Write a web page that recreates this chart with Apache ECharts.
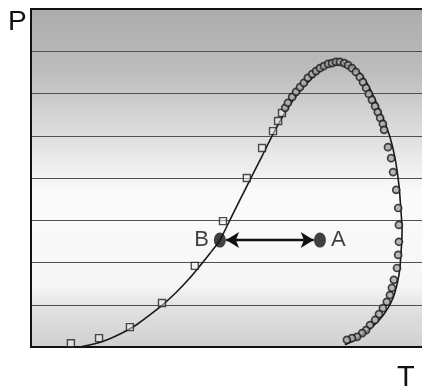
<!DOCTYPE html>
<html>
<head>
<meta charset="utf-8">
<script src="https://cdn.jsdelivr.net/npm/echarts@6/dist/echarts.min.js"></script>
<style>
  html, body { margin: 0; padding: 0; background: #fff; }
  #chart { width: 422px; height: 389px; }
</style>
</head>
<body>
<div id="chart"></div>
<script>
// fitted curve (T, P)
const curveT = [12.5, 16.1, 19.7, 23.3, 26.9, 30.4, 33.8, 37.1, 40.2, 43.2, 45.8, 48.3, 51.9, 55.5, 59.1, 62.7, 65.7, 68.8, 71.9, 74.9, 78.3, 81.3, 84.1, 86.2, 88.0, 90.0, 91.8, 93.1, 94.1, 94.6, 94.9, 94.6, 94.1, 92.6, 90.3, 87.2, 83.6, 80.3]
const curveP = [0, 0.07, 0.18, 0.33, 0.52, 0.76, 1.01, 1.29, 1.59, 1.92, 2.22, 2.53, 3.20, 3.86, 4.52, 5.18, 5.66, 6.06, 6.37, 6.60, 6.72, 6.67, 6.49, 6.20, 5.85, 5.42, 4.97, 4.47, 3.83, 3.24, 2.77, 2.18, 1.70, 1.16, 0.78, 0.47, 0.21, 0.05]

// square markers
const squareT = [10.2, 17.4, 25.3, 33.5, 41.9, 49.1, 55.2, 59.1, 61.9, 63.2, 64.2]
const squareP = [0.09, 0.21, 0.47, 1.04, 1.92, 2.98, 4.0, 4.71, 5.11, 5.35, 5.54]

// circle markers
const circleT = [65.0, 65.7, 66.8, 67.8, 68.8, 69.8, 70.8, 71.9, 72.9, 73.9, 74.9, 76.0, 77.0, 78.0, 79.0, 80.1, 81.1, 82.1, 83.1, 84.1, 84.9, 85.7, 86.4, 87.2, 88.0, 88.7, 89.3, 90.0, 90.3, 91.3, 92.1, 92.6, 93.4, 93.9, 94.1, 94.1, 93.9, 93.6, 92.8, 92.3, 91.8, 91.0, 90.0, 89.0, 88.0, 86.7, 85.7, 84.7, 83.4, 82.1, 80.8]
const circleP = [5.66, 5.78, 5.92, 6.04, 6.15, 6.25, 6.37, 6.46, 6.53, 6.60, 6.65, 6.70, 6.72, 6.75, 6.75, 6.72, 6.67, 6.60, 6.51, 6.39, 6.27, 6.13, 5.99, 5.85, 5.70, 5.56, 5.42, 5.28, 5.14, 4.73, 4.47, 4.14, 3.72, 3.29, 2.89, 2.49, 2.18, 1.87, 1.59, 1.40, 1.23, 1.07, 0.92, 0.78, 0.64, 0.52, 0.40, 0.33, 0.24, 0.21, 0.17]

// points A and B
const pointNames = ['B', 'A']
const pointT = [48.3, 73.9]
const pointP = [2.53, 2.53]

const zip = (xs, ys) => xs.map((x, i) => [x, ys[i]])

const chart = echarts.init(document.getElementById('chart'))
const labelFont = '"Liberation Sans", Arial, sans-serif'

const hiddenAxis = {
  axisLabel: { show: false },
  axisTick: { show: false },
  splitLine: { show: false },
  axisLine: { lineStyle: { color: '#111', width: 2 } }
}

chart.setOption({
  animation: false,
  grid: {
    left: 31,
    top: 9,
    right: 0,
    bottom: 42,
    show: true,
    borderWidth: 0,
    backgroundColor: new echarts.graphic.LinearGradient(0, 0, 0, 1, [
      { offset: 0, color: '#acacac' },
      { offset: 0.18, color: '#bcbcbc' },
      { offset: 0.42, color: '#e6e6e6' },
      { offset: 0.55, color: '#fbfbfb' },
      { offset: 0.82, color: '#f6f6f6' },
      { offset: 0.88, color: '#e2e2e2' },
      { offset: 1, color: '#d0d0d0' }
    ])
  },
  xAxis: [
    Object.assign({ type: 'value', min: 0, max: 100, position: 'bottom' }, hiddenAxis),
    Object.assign({ type: 'value', min: 0, max: 100, position: 'top' }, hiddenAxis)
  ],
  yAxis: {
    type: 'value',
    min: 0,
    max: 8,
    interval: 1,
    axisLabel: { show: false },
    axisTick: { show: false },
    axisLine: { lineStyle: { color: '#111', width: 2 } },
    splitLine: { lineStyle: { color: '#505050', width: 1 } }
  },
  graphic: [
    {
      type: 'text', left: 8, top: 8,
      style: { text: 'P', fontSize: 28, fontFamily: labelFont, fill: '#111' }
    },
    {
      type: 'text', left: 397, top: 363,
      style: { text: 'T', fontSize: 29, fontFamily: labelFont, fill: '#111' }
    }
  ],
  series: [
    {
      type: 'line',
      data: zip(curveT, curveP),
      smooth: 0.3,
      symbol: 'none',
      lineStyle: { color: '#1a1a1a', width: 1.6 },
      z: 2
    },
    {
      type: 'scatter',
      data: zip(squareT, squareP),
      symbol: 'rect',
      symbolSize: 7,
      itemStyle: { color: 'rgba(240,240,240,0.6)', borderColor: '#222', borderWidth: 1.4 },
      z: 3
    },
    {
      type: 'scatter',
      data: zip(circleT, circleP),
      symbol: 'circle',
      symbolSize: 7,
      itemStyle: { color: '#a8a8a8', borderColor: '#1a1a1a', borderWidth: 1.7 },
      z: 4
    },
    {
      type: 'scatter',
      data: pointNames.map((n, i) => ({
        name: n,
        value: [pointT[i], pointP[i]],
        label: { position: i === 0 ? 'left' : 'right' }
      })),
      symbol: 'circle',
      symbolSize: [12, 15],
      itemStyle: { color: '#111' },
      label: {
        show: true,
        formatter: '{b}',
        fontSize: 22,
        fontFamily: labelFont,
        color: '#111',
        distance: 5
      },
      markLine: {
        silent: true,
        symbol: ['arrow', 'arrow'],
        symbolSize: [12, 13],
        label: { show: false },
        lineStyle: { color: '#111', width: 2.4, type: 'solid' },
        data: [[{ coord: [pointT[0] + 1.6, pointP[0]] }, { coord: [pointT[1] - 1.6, pointP[1]] }]]
      },
      z: 5
    }
  ]
})
</script>
</body>
</html>
